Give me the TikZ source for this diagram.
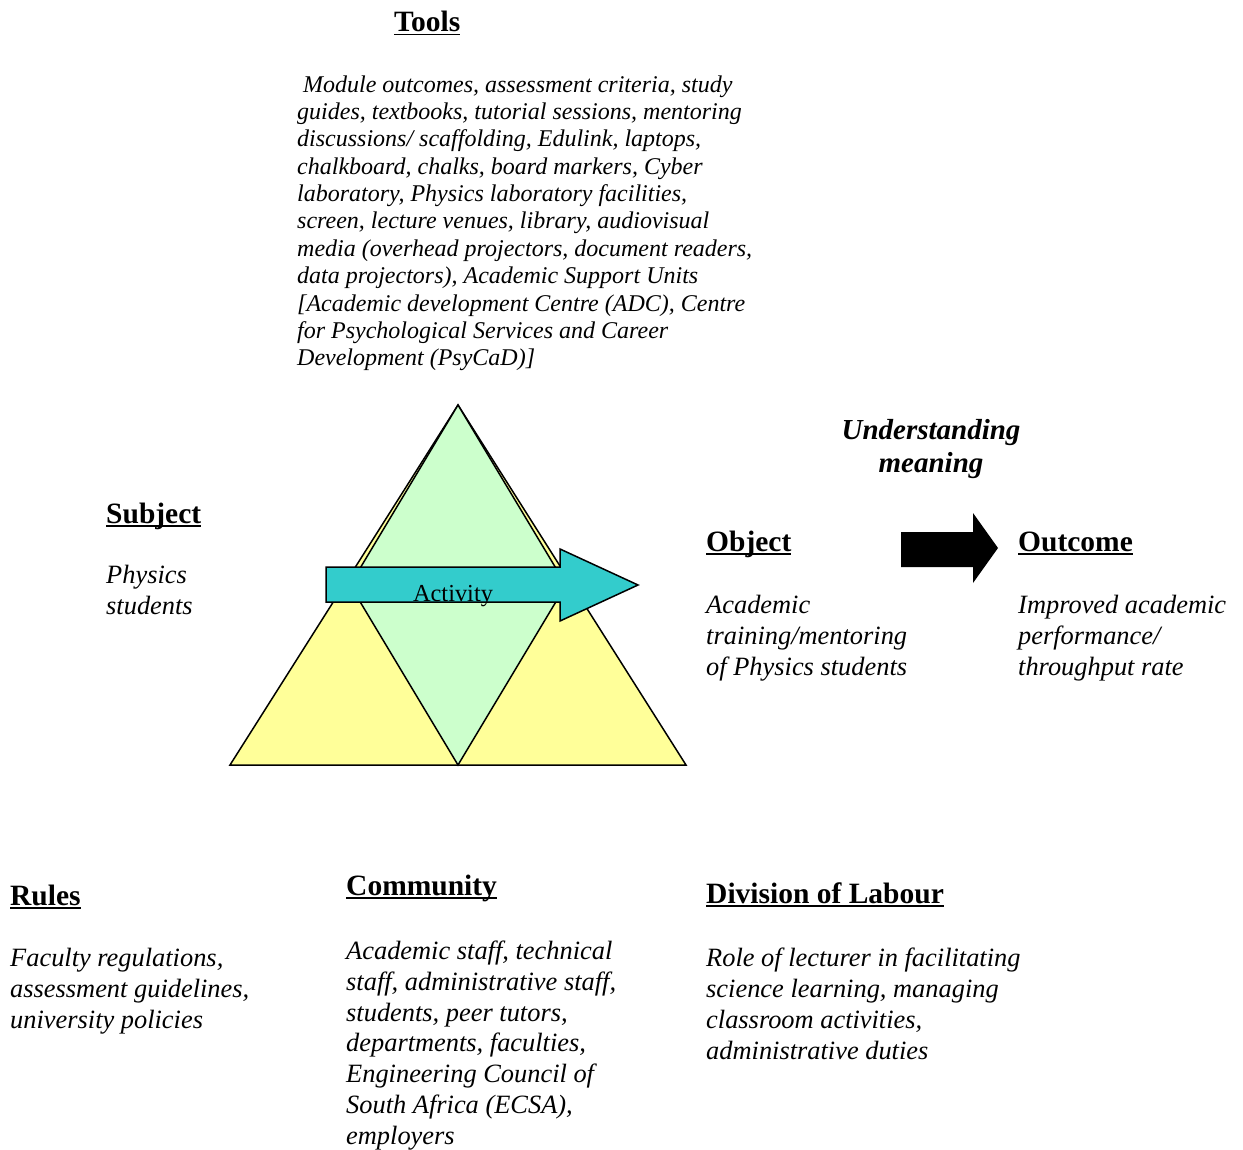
\documentclass[tikz,border=0pt]{standalone}
\usepackage{fontspec}
\setmainfont{Liberation Serif}
\definecolor{triyellow}{HTML}{FFFF99}
\definecolor{trigreen}{HTML}{CCFFCC}
\definecolor{actcyan}{HTML}{33CCCC}
\newcommand\uhead[1]{\setbox0\hbox{#1}\rlap{\rule[-3.5pt]{\wd0}{1.8pt}}\box0}
\begin{document}
\begin{tikzpicture}[x=1pt,y=-1pt,
  head/.style={anchor=base west, inner sep=0pt, font=\fontsize{29.5}{33}\selectfont\bfseries},
  body/.style={anchor=base west, inner sep=0pt, align=left, font=\fontsize{26.4}{30.7}\selectfont\itshape},
  toolsbody/.style={body, font=\fontsize{24}{27.4}\selectfont\itshape},
  outl/.style={draw=black, line width=1.5pt, line join=miter}
]
\useasboundingbox (0,0) rectangle (1243,1150);

% triangle
\coordinate (apex) at (458,405);
\coordinate (bl) at (230,765);
\coordinate (br) at (686,765);
\coordinate (bm) at (458,765);
\coordinate (ml) at (350,585);
\coordinate (mr) at (566,585);
\draw[outl, fill=triyellow] (bl) -- (apex) -- (br) -- cycle;
\draw[outl, fill=trigreen] (apex) -- (ml) -- (bm) -- (mr) -- cycle;

% activity arrow
\draw[outl, fill=actcyan] (326,567) -- (560,567) -- (560,549) -- (638,585) -- (560,621) -- (560,602) -- (326,602) -- cycle;
\node[anchor=base, inner sep=0pt, font=\fontsize{24.4}{24}\selectfont] (activity) at (453,601) {Activity};

% black arrow
\fill[black] (901,532) -- (973,532) -- (973,513) -- (998,548) -- (973,583) -- (973,567) -- (901,567) -- cycle;

% Tools (base anchor = last line's baseline)
\node[head] (toolsh) at (394,32) {\uhead{Tools}};
\node[toolsbody] (toolsb) at (297,366) {\hspace*{6pt}Module outcomes, assessment criteria, study\\
guides, textbooks, tutorial sessions, mentoring\\
discussions/ scaffolding, Edulink, laptops,\\
chalkboard, chalks, board markers, Cyber\\
laboratory, Physics laboratory facilities,\\
screen, lecture venues, library, audiovisual\\
media (overhead projectors, document readers,\\
data projectors), Academic Support Units\\
{[}Academic development Centre (ADC), Centre\\
for Psychological Services and Career\\
Development (PsyCaD)]};

% Subject
\node[head] (subjh) at (106,523) {\uhead{Subject}};
\node[body] (subjb) at (106,614) {Physics\\students};

% Understanding meaning
\node[anchor=base, inner sep=0pt, align=center, font=\fontsize{29}{32.5}\selectfont\bfseries\itshape] (underst) at (931,472) {Understanding\\meaning};

% Object
\node[head] (objh) at (706,551) {\uhead{Object}};
\node[body] (objb) at (706,675) {Academic\\training/mentoring\\of Physics students};

% Outcome
\node[head] (outh) at (1018,551) {\uhead{Outcome}};
\node[body] (outb) at (1018,675) {Improved academic\\performance/\\throughput rate};

% Rules
\node[head] (rulesh) at (10,905) {\uhead{Rules}};
\node[body] (rulesb) at (10,1028) {Faculty regulations,\\assessment guidelines,\\university policies};

% Community
\node[head] (commh) at (346,895) {\uhead{Community}};
\node[body] (commb) at (346,1144) {Academic staff, technical\\staff, administrative staff,\\students, peer tutors,\\departments, faculties,\\Engineering Council of\\South Africa (ECSA),\\employers};

% Division of labour
\node[head] (divh) at (706,903) {\uhead{Division of Labour}};
\node[body] (divb) at (706,1059) {Role of lecturer in facilitating\\science learning, managing\\classroom activities,\\administrative duties};
\end{tikzpicture}
\end{document}
